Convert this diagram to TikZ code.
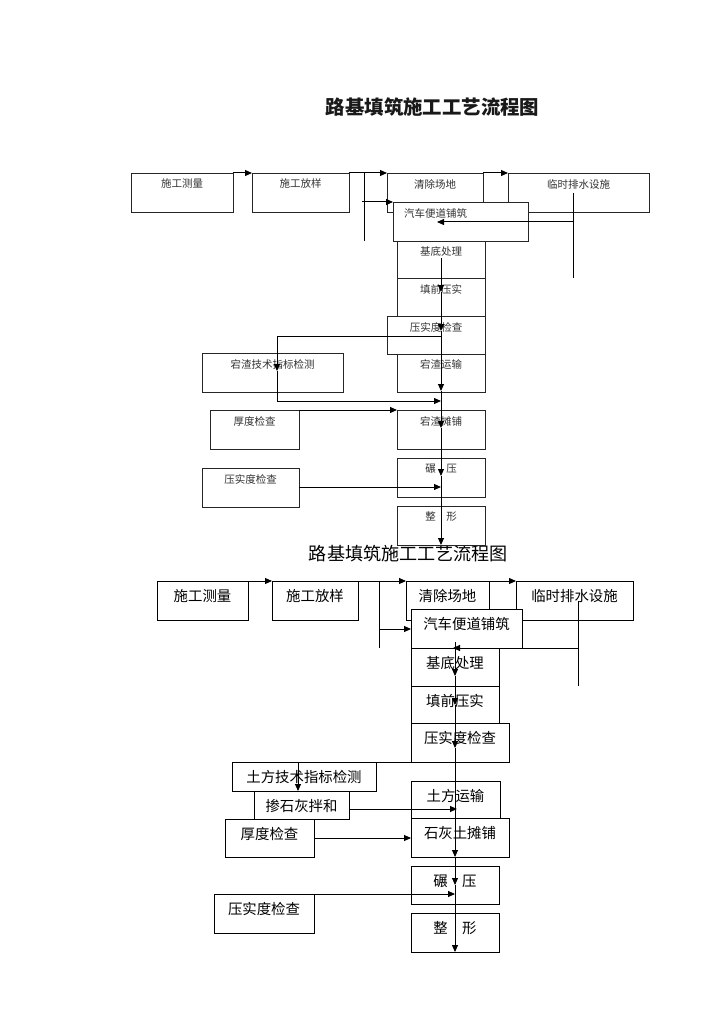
\documentclass[tikz,border=0pt]{standalone}
\usepackage{fontspec}
\setmainfont{Noto Sans CJK SC}
\usetikzlibrary{arrows.meta,calc}
\tikzset{
  bxt/.style={draw=black!85, line width=0.95pt, fill=white, inner sep=0pt, outer sep=0pt, anchor=north west},
  bxb/.style={draw=black, line width=0.9pt, fill=white, inner sep=0pt, outer sep=0pt, anchor=north west},
  ttxt/.style={font=\fontsize{10.5}{12}\selectfont, text=black!80, inner sep=0pt},
  btxt/.style={font=\fontsize{14.4}{16}\selectfont, inner sep=0pt},
  cont/.style={line width=1pt},
  arrt/.style={line width=1pt, -{Triangle[length=7pt,width=6pt]}},
  conb/.style={line width=0.9pt},
  arrb/.style={line width=0.9pt, -{Triangle[length=7pt,width=6pt]}},
}
% [xoff]{name}{x1}{y1}{x2}{y2}{text}
\newcommand\topbox[7][0]{%
  \node[bxt, minimum width={(#5-#3)*1pt}, minimum height={(#6-#4)*1pt}] (#2) at (#3,#4) {};%
  \node[ttxt] (#2t) at ($(#2.north)+(#1,11)$) {#7};}
\newcommand\botbox[7][0]{%
  \node[bxb, minimum width={(#5-#3)*1pt}, minimum height={(#6-#4)*1pt}] (#2) at (#3,#4) {};%
  \node[btxt] (#2t) at ($(#2.north)+(#1,15)$) {#7};}
\begin{document}
\begin{tikzpicture}[x=1pt,y=-1pt]
\useasboundingbox[fill=white] (0,0) rectangle (724,1024);
% titles
\node[font=\fontsize{19.4}{21}\selectfont\bfseries, text=black!90] (title1) at (432.5,107) {路基填筑施工工艺流程图};
\node[font=\fontsize{18.1}{20}\selectfont] (title2) at (408.5,554) {路基填筑施工工艺流程图};
% ---------- top chart ----------
\topbox{tA}{131}{173}{233}{212}{施工测量}
\topbox{tB}{252}{173}{349}{212}{施工放样}
\topbox{tC}{387}{173}{483}{212}{清除场地}
\topbox{tD}{508}{173}{649}{212}{临时排水设施}
\topbox[-25]{tE}{393}{202}{528}{241}{汽车便道铺筑}
\topbox{tF}{397}{241}{485}{278}{基底处理}
\topbox{tG}{397}{278}{485}{316}{填前压实}
\topbox{tH}{387}{316}{485}{354}{压实度检查}
\topbox{tI}{397}{354}{485}{392}{宕渣运输}
\topbox{tJ}{202}{353}{343}{392}{宕渣技术指标检测}
\topbox{tK}{210}{410}{299}{449}{厚度检查}
\topbox{tL}{397}{410}{485}{449}{宕渣摊铺}
\topbox{tM}{202}{468}{299}{507}{压实度检查}
\topbox{tN}{397}{458}{485}{497}{碾　压}
\topbox{tO}{397}{506}{485}{545}{整　形}
\coordinate (t1) at (364,173); \coordinate (t2) at (364,241);
\coordinate (t3) at (362,202);
\coordinate (t4) at (573,193); \coordinate (t5) at (573,278);
\coordinate (t6) at (573,222); \coordinate (t7) at (437,222);
\coordinate (m0) at (441,258); \coordinate (m1) at (441,292);
\coordinate (m2) at (441,331); \coordinate (m3) at (441,391);
\coordinate (m4) at (441,428); \coordinate (m5) at (441,476);
\coordinate (m6) at (441,545);
\coordinate (h1) at (441,336); \coordinate (h2) at (277,336);
\coordinate (h3) at (277,371); \coordinate (h4) at (277,401);
\coordinate (h5) at (441,401);
\coordinate (k1) at (299,487); \coordinate (k2) at (441,487);
\draw[arrt] (tA.north east) -- (tB.north west);
\draw[arrt] (tB.north east) -- (tC.north west);
\draw[arrt] (tC.north east) -- (tD.north west);
\draw[cont] (t1) -- (t2);
\draw[arrt] (t3) -- (tE.north west);
\draw[cont] (t4) -- (t5);
\draw[arrt] (t6) -- (t7);
\draw[arrt] (m0) -- (m1);
\draw[arrt] (m1) -- (m2);
\draw[arrt] (m2) -- (m3);
\draw[arrt] (m3) -- (m4);
\draw[arrt] (m4) -- (m5);
\draw[arrt] (m5) -- (m6);
\draw[cont] (h1) -- (h2);
\draw[arrt] (h2) -- (h3);
\draw[arrt] (h3) -- (h4) -- (h5);
\draw[arrt] (tK.north east) -- (tL.north west);
\draw[arrt] (k1) -- (k2);
% ---------- bottom chart ----------
\botbox{bA}{157}{581}{248}{620}{施工测量}
\botbox{bB}{272}{581}{358}{620}{施工放样}
\botbox{bC}{406}{581}{489}{620}{清除场地}
\botbox{bD}{516}{581}{633}{620}{临时排水设施}
\botbox{bE}{411}{609}{522}{648}{汽车便道铺筑}
\botbox{bF}{411}{648}{499}{686}{基底处理}
\botbox{bG}{411}{686}{499}{723}{填前压实}
\botbox{bH}{411}{723}{509}{762}{压实度检查}
\botbox{bI}{411}{781}{500}{819}{土方运输}
\botbox{bJ}{232}{762}{376}{791}{土方技术指标检测}
\botbox{bK}{254}{791}{349}{819}{掺石灰拌和}
\botbox{bL}{225}{819}{314}{857}{厚度检查}
\botbox{bM}{411}{818}{509}{857}{石灰土摊铺}
\botbox{bN}{411}{866}{499}{904}{碾　压}
\botbox{bO}{411}{913}{499}{952}{整　形}
\botbox{bP}{214}{894}{314}{933}{压实度检查}
\coordinate (u1) at (379,581); \coordinate (u2) at (379,648);
\coordinate (u3) at (379,629); \coordinate (u4) at (411,629);
\coordinate (u5) at (578,601); \coordinate (u6) at (578,686);
\coordinate (u7) at (578,648); \coordinate (u8) at (453,648);
\coordinate (n0) at (455,642); \coordinate (n1) at (455,676);
\coordinate (n2) at (455,705); \coordinate (n3) at (455,748);
\coordinate (n4) at (455,857); \coordinate (n5) at (455,885);
\coordinate (n6) at (455,952);
\coordinate (g1) at (455,762); \coordinate (g2) at (298,762);
\coordinate (g3) at (298,791);
\coordinate (g4) at (349,809); \coordinate (g5) at (457,809);
\coordinate (g6) at (314,838); \coordinate (g7) at (411,838);
\coordinate (g8) at (314,894); \coordinate (g9) at (455,894);
\draw[arrb] (bA.north east) -- (bB.north west);
\draw[arrb] (bB.north east) -- (bC.north west);
\draw[arrb] (bC.north east) -- (bD.north west);
\draw[conb] (u1) -- (u2);
\draw[arrb] (u3) -- (u4);
\draw[conb] (u5) -- (u6);
\draw[arrb] (u7) -- (u8);
\draw[arrb] (n0) -- (n1);
\draw[arrb] (n1) -- (n2);
\draw[arrb] (n2) -- (n3);
\draw[arrb] (n3) -- (n4);
\draw[arrb] (n4) -- (n5);
\draw[arrb] (n5) -- (n6);
\draw[conb] (g1) -- (g2);
\draw[arrb] (g2) -- (g3);
\draw[arrb] (g4) -- (g5);
\draw[arrb] (g6) -- (g7);
\draw[arrb] (g8) -- (g9);
\end{tikzpicture}
\end{document}
